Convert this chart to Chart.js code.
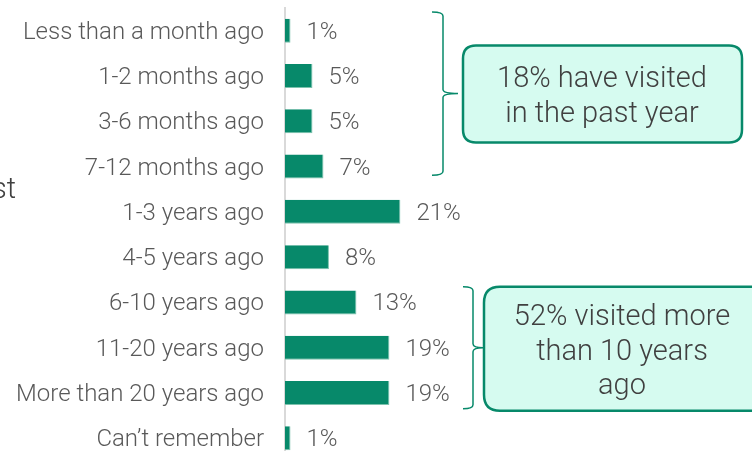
<!DOCTYPE html>
<html>
<head>
<meta charset="utf-8">
<script src="https://cdn.jsdelivr.net/npm/chart.js@4.4.0/dist/chart.umd.min.js"></script>
<style>
  html, body { margin: 0; padding: 0; background: #fff; overflow: hidden; }
  #wrap { width: 752px; height: 451px; overflow: hidden; }
</style>
</head>
<body>
<div id="wrap"><canvas id="myChart" width="752" height="461"></canvas></div>
<script>
let labels = ['Less than a month ago', '1-2 months ago', '3-6 months ago', '7-12 months ago',
  '1-3 years ago', '4-5 years ago', '6-10 years ago', '11-20 years ago',
  'More than 20 years ago', 'Can\u2019t remember'];
let values = [1, 5, 5, 7, 21, 8, 13, 19, 19, 1];
let valueLabels = ['1%', '5%', '5%', '7%', '21%', '8%', '13%', '19%', '19%', '1%'];

// callouts: which rows the bracket covers, and the text in the box
let callouts = [
  { from: 0, to: 3, lines: ['18% have visited', 'in the past year'] },
  { from: 6, to: 8, lines: ['52% visited more', 'than 10 years', 'ago'] }
];

const green = '#07896a';

let valueLabelPlugin = {
  id: 'valueLabels',
  afterDatasetsDraw(chart) {
    let ctx = chart.ctx;
    let meta = chart.getDatasetMeta(0);
    ctx.save();
    ctx.font = '300 24px Roboto';
    ctx.fillStyle = '#595959';
    ctx.textAlign = 'left';
    ctx.textBaseline = 'middle';
    meta.data.forEach(function (bar, i) {
      ctx.fillText(valueLabels[i], bar.x + 16, bar.y + 2);
    });
    ctx.restore();
  }
};

function roundRect(ctx, x, y, w, h, r) {
  ctx.beginPath();
  ctx.moveTo(x + r, y);
  ctx.lineTo(x + w - r, y);
  ctx.quadraticCurveTo(x + w, y, x + w, y + r);
  ctx.lineTo(x + w, y + h - r);
  ctx.quadraticCurveTo(x + w, y + h, x + w - r, y + h);
  ctx.lineTo(x + r, y + h);
  ctx.quadraticCurveTo(x, y + h, x, y + h - r);
  ctx.lineTo(x, y + r);
  ctx.quadraticCurveTo(x, y, x + r, y);
  ctx.closePath();
}

function drawBracket(ctx, x, top, bottom, hook, tip) {
  let mid = (top + bottom) / 2;
  ctx.beginPath();
  ctx.moveTo(x - hook, top);
  ctx.quadraticCurveTo(x, top, x, top + 4);
  ctx.lineTo(x, mid - 4);
  ctx.quadraticCurveTo(x, mid, x + tip, mid);
  ctx.moveTo(x + tip, mid);
  ctx.quadraticCurveTo(x, mid, x, mid + 4);
  ctx.lineTo(x, bottom - 4);
  ctx.quadraticCurveTo(x, bottom, x - hook, bottom);
  ctx.stroke();
}

let calloutPlugin = {
  id: 'callouts',
  afterDraw(chart) {
    let ctx = chart.ctx;
    let y = chart.scales.y;
    let band = y.getPixelForValue(1) - y.getPixelForValue(0);

    ctx.save();
    // stray text cut off at the left edge
    ctx.font = '300 29px Roboto';
    ctx.fillStyle = '#404040';
    ctx.textAlign = 'right';
    ctx.textBaseline = 'alphabetic';
    ctx.fillText('st', 16, 198);

    // first bracket + box
    let c = callouts[0];
    let top = y.getPixelForValue(c.from) - band / 2 + 4;
    let bottom = y.getPixelForValue(c.to) + band / 2 - 14;
    ctx.strokeStyle = green;
    ctx.lineWidth = 1.5;
    drawBracket(ctx, 443, top, bottom, 11, 15);
    let mid = (top + bottom) / 2;
    roundRect(ctx, 463, mid - 48, 279, 97, 13);
    ctx.fillStyle = '#d6fbf0';
    ctx.fill();
    ctx.lineWidth = 2.5;
    ctx.stroke();
    ctx.fillStyle = '#404040';
    ctx.font = '300 29px Roboto';
    ctx.textAlign = 'center';
    ctx.textBaseline = 'middle';
    ctx.fillText(c.lines[0], 602, mid - 14);
    ctx.fillText(c.lines[1], 602, mid + 21);

    // second bracket + box
    c = callouts[1];
    top = y.getPixelForValue(c.from) - band / 2 + 7;
    bottom = y.getPixelForValue(c.to) + band / 2 - 7;
    ctx.lineWidth = 1.5;
    drawBracket(ctx, 473, top, bottom, 10, 10);
    mid = (top + bottom) / 2;
    roundRect(ctx, 484, top, 290, bottom - top + 2, 16);
    ctx.fillStyle = '#d6fbf0';
    ctx.fill();
    ctx.lineWidth = 2.5;
    ctx.stroke();
    ctx.fillStyle = '#404040';
    ctx.fillText(c.lines[0], 622, mid - 30);
    ctx.fillText(c.lines[1], 622, mid + 5);
    ctx.fillText(c.lines[2], 622, mid + 39);
    ctx.restore();
  }
};

let data = {
  labels: labels,
  datasets: [{
    data: values,
    backgroundColor: green,
    borderColor: '#7cc2ad',
    borderWidth: { right: 1, bottom: 1, top: 0, left: 0 },
    borderSkipped: false,
    categoryPercentage: 1,
    barPercentage: 0.53
  }]
};

let config = {
  type: 'bar',
  data: data,
  options: {
    indexAxis: 'y',
    responsive: false,
    animation: false,
    devicePixelRatio: 1,
    layout: { padding: { top: 8, bottom: 0, left: 0, right: 0 } },
    plugins: { legend: { display: false }, tooltip: { enabled: false } },
    scales: {
      x: { display: false, min: 0, max: 85 },
      y: {
        grid: { display: false, drawTicks: false },
        border: { display: true, color: '#d9d9d9', width: 2 },
        ticks: {
          color: '#595959',
          font: { family: 'Roboto', size: 24, weight: '300' },
          padding: 21,
          labelOffset: 2
        },
        afterFit: function (scale) {
          scale.width = 285;
          scale.paddingTop = 0;
          scale.paddingBottom = 0;
        }
      }
    }
  },
  plugins: [valueLabelPlugin, calloutPlugin]
};

let myChart = new Chart(document.getElementById('myChart'), config);
</script>
</body>
</html>
